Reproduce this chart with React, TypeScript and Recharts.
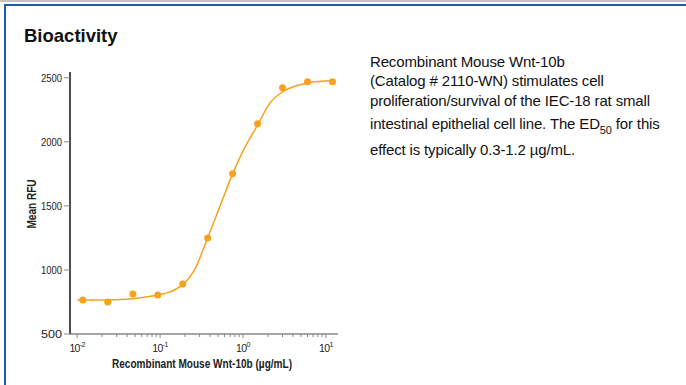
import React from 'react'
import {
  ComposedChart, Line, Scatter, XAxis, YAxis, Label
} from 'recharts'

// measured points (concentration in µg/mL, mean RFU)
const DOSE = [0.0117, 0.0234, 0.047, 0.094, 0.1875, 0.375, 0.75, 1.5, 3, 6, 12]
const RFU = [766, 750, 812, 805, 891, 1250, 1750, 2141, 2422, 2469, 2469]

// fitted curve
const FIT_X = [0.01, 0.02, 0.04, 0.07, 0.1, 0.15, 0.2, 0.26, 0.375, 0.53, 0.75, 1.06, 1.5, 2.1, 3, 4.5, 6, 12]
const FIT_Y = [766, 766, 772, 790, 808, 845, 900, 1000, 1250, 1500, 1750, 1960, 2130, 2300, 2390, 2440, 2460, 2478]

const Y_TICKS = [500, 1000, 1500, 2000, 2500]
const MAJOR = [0.01, 0.1, 1, 10]
const MAJOR_LABELS = ['-2', '-1', '0', '1']
const MINOR = [2, 3, 4, 5, 6, 7, 8, 9].flatMap((m) => [0.01 * m, 0.1 * m, 1 * m])

const points = DOSE.map((x, i) => ({ x, y: RFU[i] }))
const fit = FIT_X.map((x, i) => ({ x, y: FIT_Y[i] }))

const ORANGE = '#F9A11B'
const AXIS_FONT = '"Liberation Sans", Arial, sans-serif'

const XTick = ({ x, y, payload }: any) => {
  const idx = MAJOR.findIndex((m) => Math.abs(m - payload.value) < 1e-9)
  const major = idx >= 0
  return (
    <g>
      <line x1={x} x2={x} y1={y} y2={y + (major ? 4 : 3)} stroke="#888" strokeWidth={1} />
      {major && (
        <text x={x} y={y + 18} textAnchor="middle" fontSize={10.5} fill="#222" fontFamily={AXIS_FONT} letterSpacing={-0.6}>
          <tspan>10</tspan>
          <tspan dy={-5} fontSize={7}>{MAJOR_LABELS[idx]}</tspan>
        </text>
      )}
    </g>
  )
}

const YTick = ({ x, y, payload }: any) => (
  <text x={x} y={y + 4} textAnchor="end" fontSize={11} fill="#222" fontFamily={AXIS_FONT}
    textLength={21} lengthAdjust="spacingAndGlyphs">
    {payload.value}
  </text>
)

const XTitle = ({ viewBox }: any) => (
  <text x={viewBox.x + viewBox.width / 2 - 2} y={viewBox.y + 34} textAnchor="middle" fontSize={12.5}
    fontWeight="bold" fill="#222" fontFamily={AXIS_FONT} textLength={180} lengthAdjust="spacingAndGlyphs">
    Recombinant Mouse Wnt-10b (µg/mL)
  </text>
)

const YTitle = ({ viewBox }: any) => {
  const cx = 36
  const cy = viewBox.y + viewBox.height / 2 + 1
  return (
    <text x={cx} y={cy} transform={`rotate(-90 ${cx} ${cy})`} textAnchor="middle" fontSize={12}
      fontWeight="bold" fill="#222" fontFamily={AXIS_FONT} textLength={49} lengthAdjust="spacingAndGlyphs">
      Mean RFU
    </text>
  )
}

const lines = [
  { top: 53, content: 'Recombinant Mouse Wnt-10b' },
  { top: 72, content: '(Catalog # 2110-WN) stimulates cell' },
  { top: 92, content: 'proliferation/survival of the IEC-18 rat small' },
]

export default function App() {
  return (
    <div style={{ position: 'absolute', left: 0, top: 0, width: 686, height: 385, background: '#fff', overflow: 'hidden', fontFamily: '"Liberation Sans", Arial, sans-serif' }}>
      <div style={{ position: 'absolute', left: 0, top: 0, width: 686, height: 2, background: '#c4c4c4' }} />
      <div style={{ position: 'absolute', left: 4, top: 4, width: 682, height: 2, background: '#1d5ea6' }} />
      <div style={{ position: 'absolute', left: 4, top: 4, width: 2, height: 381, background: '#1d5ea6' }} />

      <div style={{ position: 'absolute', left: 24, top: 25, fontSize: 18.5, fontWeight: 'bold', color: '#111' }}>
        Bioactivity
      </div>

      {lines.map((l) => (
        <div key={l.top} style={{ position: 'absolute', left: 370, top: l.top, fontSize: 15, color: '#111', whiteSpace: 'nowrap', letterSpacing: -0.15 }}>
          {l.content}
        </div>
      ))}
      <div style={{ position: 'absolute', left: 370, top: 115, fontSize: 15, color: '#111', whiteSpace: 'nowrap', letterSpacing: -0.15 }}>
        intestinal epithelial cell line. The ED
        <span style={{ fontSize: 11, position: 'relative', top: 5 }}>50</span> for this
      </div>
      <div style={{ position: 'absolute', left: 370, top: 141, fontSize: 15, color: '#111', whiteSpace: 'nowrap', letterSpacing: -0.15 }}>
        effect is typically 0.3-1.2 µg/mL.
      </div>

      <div style={{ position: 'absolute', left: 0, top: 0 }}>
        <ComposedChart width={350} height={385} margin={{ top: 72, right: 12, left: 10, bottom: 21 }}>
          <XAxis
            type="number"
            dataKey="x"
            scale="log"
            domain={[0.0082, 14]}
            ticks={[...MAJOR, ...MINOR]}
            allowDataOverflow
            interval={0}
            height={30}
            tickSize={0}
            tickMargin={0}
            tickLine={false}
            axisLine={{ stroke: '#888', strokeWidth: 1.5 }}
            tick={<XTick />}
          >
            <Label content={<XTitle />} />
          </XAxis>
          <YAxis
            type="number"
            dataKey="y"
            domain={[500, 2545]}
            ticks={Y_TICKS}
            allowDataOverflow
            width={60}
            tickSize={6}
            tickMargin={2}
            tickLine={{ stroke: '#888' }}
            axisLine={{ stroke: '#111', strokeWidth: 1.5 }}
            tick={<YTick />}
          >
            <Label content={<YTitle />} />
          </YAxis>
          <Line
            data={fit}
            dataKey="y"
            type="monotone"
            stroke={ORANGE}
            strokeWidth={1.5}
            dot={false}
            activeDot={false}
            isAnimationActive={false}
          />
          <Scatter
            data={points}
            dataKey="y"
            fill={ORANGE}
            shape={(p: any) => <circle cx={p.cx} cy={p.cy} r={3.5} fill={ORANGE} />}
            isAnimationActive={false}
          />
        </ComposedChart>
      </div>
    </div>
  )
}
